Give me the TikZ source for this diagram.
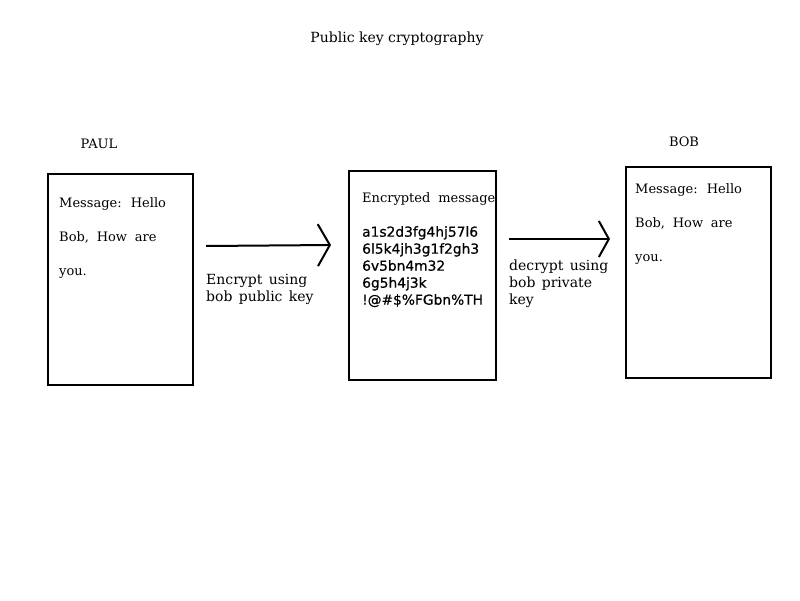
\documentclass[tikz,border=0pt]{standalone}
\usepackage{fontspec}
\setmainfont{DejaVu Serif}
\newfontfamily\codefont[FakeBold=0.6]{DejaVu Sans}
\usetikzlibrary{arrows.meta, positioning}

\begin{document}
\begin{tikzpicture}[
  x=1pt, y=-1pt,
  font=\fontsize{13}{17}\selectfont,
  box/.style={draw, line width=2pt, minimum width=145pt, minimum height=211pt, inner sep=0pt},
  boxtext/.style={anchor=north west, inner sep=0pt, align=left, font=\fontsize{13}{34}\selectfont,
    execute at begin node={\spaceskip=0.6em\relax}},
  lbl/.style={anchor=north west, inner sep=0pt, align=left, font=\fontsize{14}{17}\selectfont,
    execute at begin node={\spaceskip=0.45em\relax}},
  code/.style={anchor=north west, inner sep=0pt, align=left, font=\codefont\fontsize{13.8}{17}\selectfont},
  arr/.style={-{Straight Barb[length=12pt,width=42pt]}, line width=2pt}
]
\useasboundingbox (0,0) rectangle (800,600);
\node[font=\fontsize{14}{17}\selectfont] (title) at (397,39) {Public key cryptography};
\node (paulname) at (99,144) {PAUL};
\node (bobname) at (684,142) {BOB};
\node[box] (paul) at (120.5,279.5) {};
\node[box, minimum width=147pt, minimum height=209pt] (enc) at (422.5,275.5) {};
\node[box] (bob) at (698.5,272.5) {};
\node[boxtext] (paulmsg) at (59,197) {Message: Hello\\Bob, How are\\you.};
\node[boxtext] (bobmsg) at (635,183) {Message: Hello\\Bob, How are\\you.};
\node[boxtext] (enchead) at (362,192) {Encrypted message};
\node[code] (cipher) at (362,226) {a1s2d3fg4hj57l6\\6l5k4jh3g1f2gh3\\6v5bn4m32\\6g5h4j3k\\!@\#\$\%FGbn\%TH};
\coordinate (e1) at (206,246);
\coordinate (e2) at (331,245);
\coordinate (d1) at (509,239);
\coordinate (d2) at (610,239);
\draw[arr] (e1) -- (e2);
\draw[arr, -{Straight Barb[length=10pt,width=36pt]}] (d1) -- (d2);
\node[lbl] (enclbl) at (206,274) {Encrypt using\\bob public key};
\node[lbl] (declbl) at (509,260) {decrypt using\\bob private\\key};
\end{tikzpicture}
\end{document}
